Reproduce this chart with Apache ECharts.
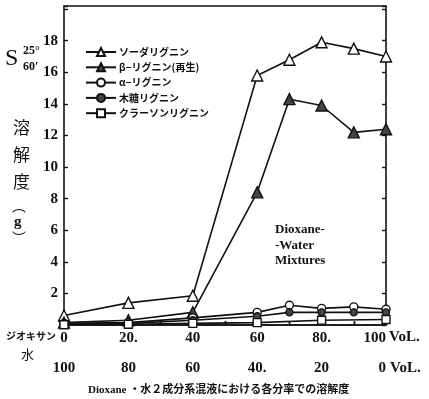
<!DOCTYPE html>
<html>
<head>
<meta charset="utf-8">
<script src="https://cdn.jsdelivr.net/npm/echarts@6/dist/echarts.min.js"></script>
<style>
html, body { margin: 0; padding: 0; background: #fff; }
#chart { width: 429px; height: 399px; }
</style>
</head>
<body>
<div id="chart"></div>
<script>
// ジオキサン Vol.% (横軸)
var dioxaneVol = [0, 20, 40, 60, 70, 80, 90, 100];
var klasonVol = [0, 20, 40, 60, 80, 100];

// 溶解度 (g)
var soda = [0.6, 1.4, 1.85, 15.8, 16.8, 17.9, 17.5, 17.0];
var beta = [0.15, 0.3, 0.8, 8.4, 14.3, 13.9, 12.2, 12.4];
var alpha = [0.1, 0.15, 0.45, 0.8, 1.25, 1.05, 1.15, 1.0];
var wood = [0.05, 0.1, 0.3, 0.55, 0.8, 0.8, 0.8, 0.8];
var klason = [0.02, 0.05, 0.1, 0.15, 0.3, 0.35];

var seriesNames = ['ソーダリグニン', 'β−リグニン(再生)', 'α−リグニン', '木糖リグニン', 'クラーソンリグニン'];

var dioxaneLabels = { 0: '0', 20: '20.', 40: '40', 60: '60', 80: '80.', 100: '100' };
var waterLabels = { 100: '100', 80: '80', 60: '60', 40: '40.', 20: '20', 0: '0' };

var numFont = 'Liberation Serif';
var jpFont = 'Noto Sans CJK JP';

function pairs(xs, ys) {
    return xs.map(function (x, i) { return [x, ys[i]]; });
}

function lineSeries(name, xs, ys, symbol, size, fill) {
    return {
        name: name,
        type: 'line',
        xAxisIndex: 0,
        yAxisIndex: 0,
        data: pairs(xs, ys),
        symbol: symbol,
        symbolSize: size,
        showAllSymbol: true,
        lineStyle: { color: '#111', width: 1.6 },
        itemStyle: { color: fill, borderColor: '#111', borderWidth: 1.4 },
        emphasis: { disabled: true },
        animation: false
    };
}

var chart = echarts.init(document.getElementById('chart'));

var option = {
    backgroundColor: '#fff',
    animation: false,
    grid: { left: 64, right: 43, top: 6, bottom: 74 },
    legend: {
        orient: 'vertical',
        left: 80,
        top: 42,
        itemWidth: 30,
        itemHeight: 10,
        itemGap: 5.3,
        data: seriesNames,
        textStyle: { fontFamily: jpFont, fontSize: 10, fontWeight: 'bold', color: '#111', padding: [0, 0, 0, -2] }
    },
    xAxis: [
        {
            type: 'value', position: 'bottom', min: 0, max: 100, interval: 10,
            axisLine: { lineStyle: { color: '#111', width: 1.6 } },
            axisTick: { inside: true, length: 4, lineStyle: { color: '#111', width: 1.4 } },
            axisLabel: {
                margin: 6, fontFamily: numFont, fontWeight: 'bold', fontSize: 15, color: '#111',
                alignMaxLabel: 'right',
                formatter: function (v) { return dioxaneLabels[v] !== undefined ? dioxaneLabels[v] : ''; }
            },
            splitLine: { show: false }
        },
        {
            type: 'value', position: 'bottom', offset: 29, min: 0, max: 100, interval: 10,
            inverse: true,
            axisLine: { lineStyle: { color: '#111', width: 1.6 } },
            axisTick: { inside: true, length: 4, lineStyle: { color: '#111', width: 1.4 } },
            axisLabel: {
                margin: 7, fontFamily: numFont, fontWeight: 'bold', fontSize: 15, color: '#111',
                alignMinLabel: 'right',
                formatter: function (v) { return waterLabels[v] !== undefined ? waterLabels[v] : ''; }
            },
            splitLine: { show: false }
        },
        {
            type: 'value', position: 'top', min: 0, max: 100,
            axisLine: { lineStyle: { color: '#111', width: 1.6 } },
            axisTick: { show: false }, axisLabel: { show: false }, splitLine: { show: false }
        }
    ],
    yAxis: [
        {
            type: 'value', position: 'left', min: 0, max: 20.2, interval: 2,
            axisLine: { show: true, lineStyle: { color: '#111', width: 1.6 } },
            axisTick: { show: true, inside: true, length: 4, lineStyle: { color: '#111', width: 1.4 } },
            axisLabel: {
                margin: 6, fontFamily: numFont, fontWeight: 'bold', fontSize: 15, color: '#111',
                formatter: function (v) { return (v > 0 && v < 20) ? String(v) : ''; }
            },
            splitLine: { show: false }
        },
        {
            type: 'value', position: 'right', min: 0, max: 20.2, interval: 2,
            axisLine: { show: true, lineStyle: { color: '#111', width: 1.6 } },
            axisTick: { show: true, inside: true, length: 4, lineStyle: { color: '#111', width: 1.4 } },
            axisLabel: { show: false },
            splitLine: { show: false }
        }
    ],
    graphic: [
        { type: 'text', left: 5, top: 47, style: { text: 'S', font: '24px "Liberation Serif"', fill: '#111' } },
        { type: 'text', left: 23, top: 45, style: { text: '25°', font: 'bold 12px "Liberation Serif"', fill: '#111' } },
        { type: 'text', left: 23, top: 61, style: { text: '60′', font: 'bold 12px "Liberation Serif"', fill: '#111' } },
        { type: 'text', left: 13, top: 114, style: { text: '溶\n解\n度', font: '17px "Noto Sans CJK JP"', lineHeight: 27, fill: '#111' } },
        // 縦書きの括弧 (g)
        { type: 'text', left: 12, top: 199, style: { text: '︵', font: '14px "Noto Sans CJK JP"', fill: '#111' } },
        { type: 'text', left: 14, top: 215, style: { text: 'g', font: 'bold 15px "Liberation Serif"', fill: '#111' } },
        { type: 'text', left: 12, top: 231, style: { text: '︶', font: '14px "Noto Sans CJK JP"', fill: '#111' } },
        { type: 'text', left: 6, top: 331, style: { text: 'ジオキサン', font: 'bold 10px "Noto Sans CJK JP"', fill: '#111' } },
        { type: 'text', left: 21, top: 348, style: { text: '水', font: '13px "Noto Sans CJK JP"', fill: '#111' } },
        { type: 'text', left: 389, top: 330, style: { text: 'VoL.', font: 'bold 15px "Liberation Serif"', fill: '#111' } },
        { type: 'text', left: 390, top: 361, style: { text: 'VoL.', font: 'bold 15px "Liberation Serif"', fill: '#111' } },
        {
            type: 'text', left: 275, top: 222,
            style: {
                text: 'Dioxane-\n-Water\nMixtures', font: 'bold 13px "Liberation Serif"',
                lineHeight: 15.5, fill: '#111', align: 'center'
            }
        },
        {
            type: 'text', left: 88, top: 385,
            style: { text: 'Dioxane ・水２成分系混液における各分率での溶解度', font: 'bold 11px "Liberation Serif", "Noto Sans CJK JP"', fill: '#111' }
        }
    ],
    series: [
        lineSeries(seriesNames[0], dioxaneVol, soda, 'triangle', 11, '#fff'),
        lineSeries(seriesNames[1], dioxaneVol, beta, 'triangle', 11, '#444'),
        lineSeries(seriesNames[2], dioxaneVol, alpha, 'circle', 8, '#fff'),
        lineSeries(seriesNames[3], dioxaneVol, wood, 'circle', 7, '#444'),
        lineSeries(seriesNames[4], klasonVol, klason, 'rect', 8, '#fff')
    ]
};

chart.setOption(option);
</script>
</body>
</html>
